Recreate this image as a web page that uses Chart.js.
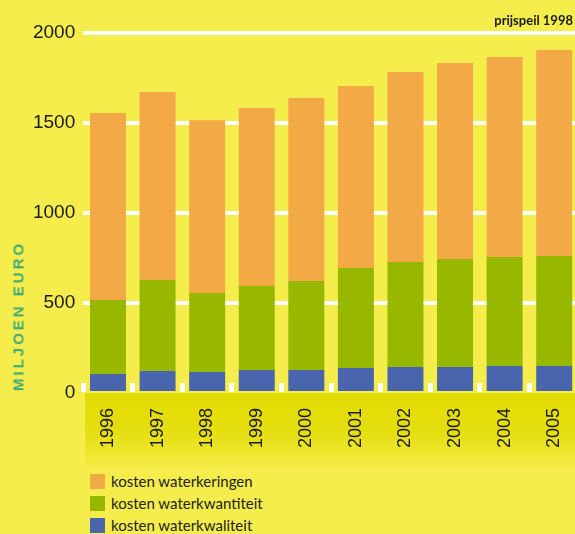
<!DOCTYPE html>
<html>
<head>
<meta charset="utf-8">
<script src="https://cdn.jsdelivr.net/npm/chart.js@4/dist/chart.umd.min.js"></script>
<style>
  html, body { margin:0; padding:0; width:575px; height:534px; overflow:hidden; background:#f5ed4b; }
  #wrap { position:absolute; left:0; top:0; width:579px; height:470px; }
  #ytitle { position:absolute; left:17.5px; top:316px; transform:translate(-50%,-50%) rotate(-90deg);
            white-space:nowrap; font-family:"Liberation Sans", Arial, sans-serif; font-weight:bold;
            font-size:15px; letter-spacing:3px; color:#3fab78; }
  #prijs { position:absolute; right:2px; top:12px; font-family:Lato, "Open Sans", sans-serif; font-weight:bold;
           font-size:13px; color:#1a1a1a; white-space:nowrap; }
  #legend { position:absolute; left:90px; top:474px; }
  .li { position:relative; height:22px; }
  .sw { position:absolute; left:0; top:0; width:15px; height:15px; }
  .lt { position:absolute; left:21px; top:-3px; line-height:20px; font-family:Lato, sans-serif;
        font-size:15px; color:#222; white-space:nowrap; }
</style>
</head>
<body>
<div id="wrap"><canvas id="c" width="579" height="470"></canvas></div>
<div id="ytitle">MILJOEN EURO</div>
<div id="prijs">prijspeil 1998</div>
<div id="legend"></div>
<script>
const categories = ['1996','1997','1998','1999','2000','2001','2002','2003','2004','2005'];
const kwaliteit    = [105, 122, 117, 128, 128, 139, 144, 144, 150, 150];
const kwantiteit   = [412, 506, 439, 466, 494, 555, 584, 600, 606, 611];
const waterkeringen= [1039, 1044, 959, 989, 1017, 1012, 1055, 1089, 1111, 1145];
const yTicks = [0, 500, 1000, 1500, 2000];
const seriesLabels = ['kosten waterkwaliteit', 'kosten waterkwantiteit', 'kosten waterkeringen'];
const seriesColors = ['#4965ad', '#98b800', '#f2a946'];

const bgPlugin = {
  id: 'bands',
  beforeDraw(chart) {
    const {ctx, chartArea} = chart;
    const top = chartArea.bottom, bottom = top + 75;
    const g = ctx.createLinearGradient(0, top, 0, bottom);
    g.addColorStop(0, '#e2db00');
    g.addColorStop(0.55, '#e6df12');
    g.addColorStop(1, '#f3eb46');
    ctx.save();
    ctx.fillStyle = g;
    ctx.fillRect(chartArea.left + 2, top, chart.width - chartArea.left, bottom - top);
    ctx.restore();
  },
  beforeDatasetsDraw(chart) {
    const {ctx, chartArea} = chart;
    const xs = chart.scales.x;
    ctx.save();
    ctx.fillStyle = '#ffffff';
    for (let i = 0; i <= categories.length; i++) {
      const px = xs.getPixelForValue(i - 0.5);
      ctx.fillRect(Math.round(px - 2.5), chartArea.bottom - 10, 5, 9);
    }
    ctx.restore();
  }
};

const data = {
  labels: categories,
  datasets: [
    { label: seriesLabels[0], data: kwaliteit, backgroundColor: seriesColors[0] },
    { label: seriesLabels[1], data: kwantiteit, backgroundColor: seriesColors[1] },
    { label: seriesLabels[2], data: waterkeringen, backgroundColor: seriesColors[2] }
  ]
};

new Chart(document.getElementById('c'), {
  type: 'bar',
  data,
  plugins: [bgPlugin],
  options: {
    responsive: false,
    animation: false,
    layout: { padding: { top: 33, right: 0, left: 0, bottom: 0 } },
    plugins: { legend: { display: false }, tooltip: { enabled: false } },
    datasets: { bar: { categoryPercentage: 1, barPercentage: 0.726, borderWidth: 0 } },
    scales: {
      x: {
        stacked: true,
        offset: true,
        grid: { display: false, drawTicks: false },
        border: { display: false },
        ticks: { minRotation: 90, maxRotation: 90, padding: 15, color: '#1a1a1a',
                 font: { family: '"Liberation Sans", Arial, sans-serif', size: 18 } },
        afterFit(scale) { scale.height = 77; scale.paddingLeft = 0; scale.paddingRight = 0; }
      },
      y: {
        stacked: true,
        min: 0, max: 2000,
        afterBuildTicks(scale) { scale.ticks = yTicks.map(v => ({ value: v })); },
        grid: { color: ctx => ctx.tick && ctx.tick.value === 0 ? 'rgba(0,0,0,0)' : '#ffffff',
                lineWidth: 4, drawTicks: false },
        border: { display: false },
        ticks: { padding: 8, color: '#1a1a1a', callback: v => String(v),
                 font: { family: '"Liberation Sans", Arial, sans-serif', size: 19 } },
        afterFit(scale) { scale.width = 83.2; }
      }
    }
  }
});

const legend = document.getElementById('legend');
[2, 1, 0].forEach(i => {
  const d = document.createElement('div'); d.className = 'li';
  const s = document.createElement('div'); s.className = 'sw'; s.style.background = seriesColors[i];
  const t = document.createElement('div'); t.className = 'lt'; t.textContent = seriesLabels[i];
  d.appendChild(s); d.appendChild(t); legend.appendChild(d);
});
</script>
</body>
</html>
